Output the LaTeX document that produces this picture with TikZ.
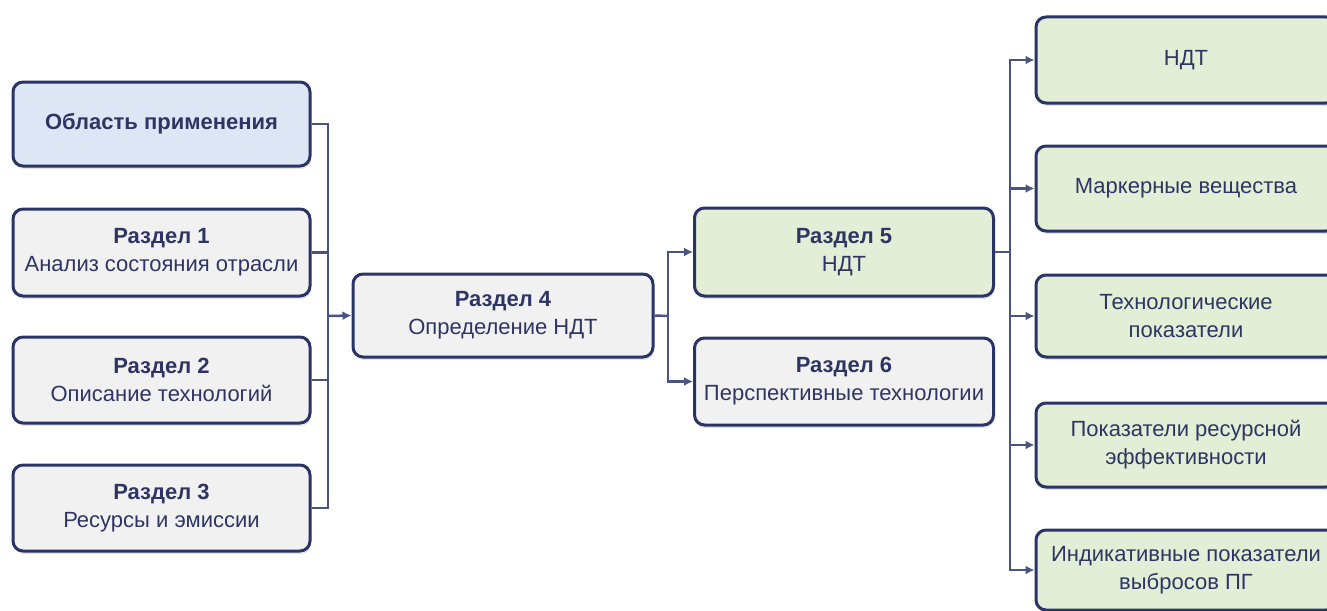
\documentclass[tikz,border=0pt]{standalone}
\usepackage{fontspec}
\setmainfont{Liberation Sans}
\usetikzlibrary{arrows.meta,shadows}

\definecolor{edge}{HTML}{2B3466}
\definecolor{ink}{HTML}{2E3563}
\definecolor{wire}{HTML}{4A5482}
\definecolor{bluefill}{HTML}{DCE6F4}
\definecolor{grayfill}{HTML}{F1F1F1}
\definecolor{greenfill}{HTML}{E3EED7}

\tikzset{
  box/.style={draw=edge, line width=3pt, rounded corners=10pt, align=center,
    text=ink, inner sep=2pt,
    font=\fontsize{22}{28}\selectfont,
    drop shadow={shadow xshift=1pt, shadow yshift=-3pt, fill=gray!35, opacity=0.6}},
  leftbox/.style={box, minimum width=297pt},
  midbox/.style={box, minimum width=299pt},
  rightbox/.style={box, fill=greenfill, minimum width=300pt},
  conn/.style={draw=wire, line width=2.5pt},
  arr/.style={conn, -{Latex[length=9pt,width=9pt]}},
}

\begin{document}
\begin{tikzpicture}[x=1pt, y=-1pt]
  \useasboundingbox (0,0) rectangle (1327,610);
  \clip (0,0) rectangle (1327,610);

  % left column
  \node[leftbox, fill=bluefill, minimum height=84pt] (scope0) at (161.5,124)
    {\textbf{Область применения}};
  \node[leftbox, fill=grayfill, minimum height=87pt] (sec1) at (161.5,252.5)
    {\textbf{Раздел 1}\\Анализ состояния отрасли};
  \node[leftbox, fill=grayfill, minimum height=86pt] (sec2) at (161.5,380)
    {\textbf{Раздел 2}\\Описание технологий};
  \node[leftbox, fill=grayfill, minimum height=86pt] (sec3) at (161.5,508)
    {\textbf{Раздел 3}\\Ресурсы и эмиссии};

  % middle
  \node[midbox, fill=grayfill, minimum width=300pt, minimum height=83pt] (sec4) at (503,315.5)
    {\textbf{Раздел 4}\\Определение НДТ};
  \node[midbox, fill=greenfill, minimum height=88pt] (sec5) at (844,252)
    {\textbf{Раздел 5}\\НДТ};
  \node[midbox, fill=grayfill, minimum height=87pt] (sec6) at (844,381.5)
    {\textbf{Раздел 6}\\Перспективные технологии};

  % right column
  \node[rightbox, minimum height=86pt] (out1) at (1186,60) {НДТ};
  \node[rightbox, minimum height=85pt] (out2) at (1186,188.5) {Маркерные вещества};
  \node[rightbox, minimum height=82pt] (out3) at (1186,316) {Технологические\\показатели};
  \node[rightbox, minimum height=84pt] (out4) at (1186,445) {Показатели ресурсной\\эффективности};
  \node[rightbox, minimum height=80pt] (out5) at (1186,570) {Индикативные показатели\\выбросов ПГ};

  % junction points of the buses
  \coordinate (jl) at (328,316);
  \coordinate (jm) at (668,316);
  \coordinate (jr) at (1010,252);

  % left bus
  \draw[conn] (scope0.east) -| (jl);
  \draw[conn] (sec3.east) -| (jl);
  \draw[conn] (sec1.east) -- (sec1.east -| jl);
  \draw[conn] (sec2.east) -- (sec2.east -| jl);
  \draw[arr] (jl) -- (sec4.west);

  % middle bus
  \draw[conn] (sec4.east) -- (jm);
  \draw[arr] (jm) |- (sec5.west);
  \draw[arr] (jm) |- (sec6.west);

  % right bus
  \draw[conn] (sec5.east) -- (jr);
  \draw[arr] (jr) |- (out1.west);
  \draw[arr] (jr) |- (out2.west);
  \draw[arr] (jr) |- (out3.west);
  \draw[arr] (jr) |- (out4.west);
  \draw[arr] (jr) |- (out5.west);
\end{tikzpicture}
\end{document}
